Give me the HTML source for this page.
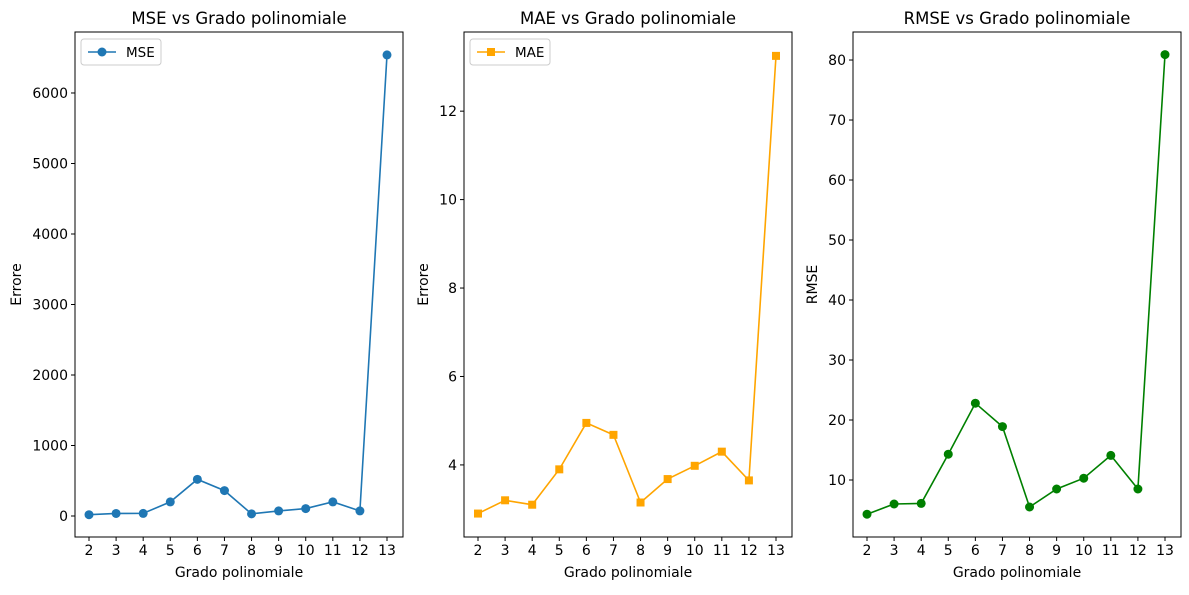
<!DOCTYPE html>
<html><head><meta charset="utf-8">
<style>
body{margin:0;background:#fff;font-family:"Liberation Sans","DejaVu Sans",sans-serif;}
svg text{font-family:"DejaVu Sans","Liberation Sans",sans-serif;}
</style></head>
<body>
<svg id="chart" width="1189" height="590" xmlns="http://www.w3.org/2000/svg"></svg>
<script>
const degrees=[2,3,4,5,6,7,8,9,10,11,12,13];
const mseValues=[18,36,37,200,520,360,30,72,105,200,72,6540];
const maeValues=[2.9,3.2,3.1,3.9,4.95,4.68,3.15,3.68,3.98,4.3,3.65,13.25];
const rmseValues=[4.3,6.0,6.1,14.3,22.8,18.9,5.5,8.5,10.3,14.1,8.5,80.9];
const mseTicks=[0,1000,2000,3000,4000,5000,6000];
const maeTicks=[4,6,8,10,12];
const rmseTicks=[10,20,30,40,50,60,70,80];

const svg=document.getElementById('chart');
const NS='http://www.w3.org/2000/svg';
function mk(tag,attrs,parent,txt){const e=document.createElementNS(NS,tag);for(const k in attrs)e.setAttribute(k,attrs[k]);if(txt!==undefined)e.textContent=txt;(parent||svg).appendChild(e);return e;}

function panel(cfg){
  const g=mk('g',{});
  
  
  const L=cfg.left,R=cfg.left+328,T=32,B=537;
  const x=d=>L+14+(d-2)*(298/11);
  const y=v=>B-(v-cfg.ymin)/(cfg.ymax-cfg.ymin)*(B-T);
  const t=mk('text',{x:(L+R)/2,y:24,'text-anchor':'middle','font-size':16.5,fill:'#000'},g,cfg.title);
  
  
  degrees.forEach(d=>{
    mk('line',{x1:x(d),x2:x(d),y1:B,y2:B+4,stroke:'#000'},g);
    const tl=mk('text',{x:x(d),y:B+18,'text-anchor':'middle','font-size':14},g,String(d));
    
    
  });
  cfg.ticks.forEach(v=>{
    mk('line',{x1:L-4,x2:L,y1:y(v),y2:y(v),stroke:'#000'},g);
    const tl=mk('text',{x:L-7,y:y(v)+5,'text-anchor':'end','font-size':14},g,String(v));
    
    
  });
  const xt=mk('text',{x:(L+R)/2,y:577,'text-anchor':'middle','font-size':14},g,'Grado polinomiale');
  
  
  const yt=mk('text',{x:0,y:0,'text-anchor':'middle','font-size':14,transform:`translate(${cfg.ylx},${(T+B)/2}) rotate(-90)`},g,cfg.ylabel);
  
  
  const pts=cfg.values.map((v,i)=>x(degrees[i])+','+y(v)).join(' ');
  const ln=mk('polyline',{points:pts,fill:'none',stroke:cfg.color,'stroke-width':1.6},g);
  
  
  cfg.values.forEach((v,i)=>{
    let m;
    if(cfg.marker==='s') m=mk('rect',{x:x(degrees[i])-4,y:y(v)-4,width:8,height:8,fill:cfg.color},g);
    else m=mk('circle',{cx:x(degrees[i]),cy:y(v),r:4.5,fill:cfg.color},g);
    
    
  });
  mk('rect',{x:L,y:T,width:R-L,height:B-T,fill:'none',stroke:'#000','stroke-width':1},g);
  if(cfg.legend){
    const lg=mk('g',{},g);
    
    
    mk('rect',{x:L+6,y:39,width:80,height:26,rx:3,fill:'#fff',stroke:'#ccc'},lg);
    mk('line',{x1:L+13,x2:L+41,y1:52,y2:52,stroke:cfg.color,'stroke-width':1.6},lg);
    if(cfg.marker==='s') mk('rect',{x:L+23,y:48,width:8,height:8,fill:cfg.color},lg);
    else mk('circle',{cx:L+27,cy:52,r:4.5,fill:cfg.color},lg);
    mk('text',{x:L+51,y:57,'font-size':13.5},lg,cfg.name.toUpperCase());
  }
}
panel({name:'mse',title:'MSE vs Grado polinomiale',left:75,ymin:-298,ymax:6865,ticks:mseTicks,values:mseValues,color:'#1f77b4',marker:'o',ylabel:'Errore',ylx:21,legend:true});
panel({name:'mae',title:'MAE vs Grado polinomiale',left:464,ymin:2.37,ymax:13.79,ticks:maeTicks,values:maeValues,color:'#ffa500',marker:'s',ylabel:'Errore',ylx:428,legend:true});
panel({name:'rmse',title:'RMSE vs Grado polinomiale',left:853,ymin:0.5,ymax:84.67,ticks:rmseTicks,values:rmseValues,color:'#008000',marker:'o',ylabel:'RMSE',ylx:817,legend:false});
</script>
</body></html>
